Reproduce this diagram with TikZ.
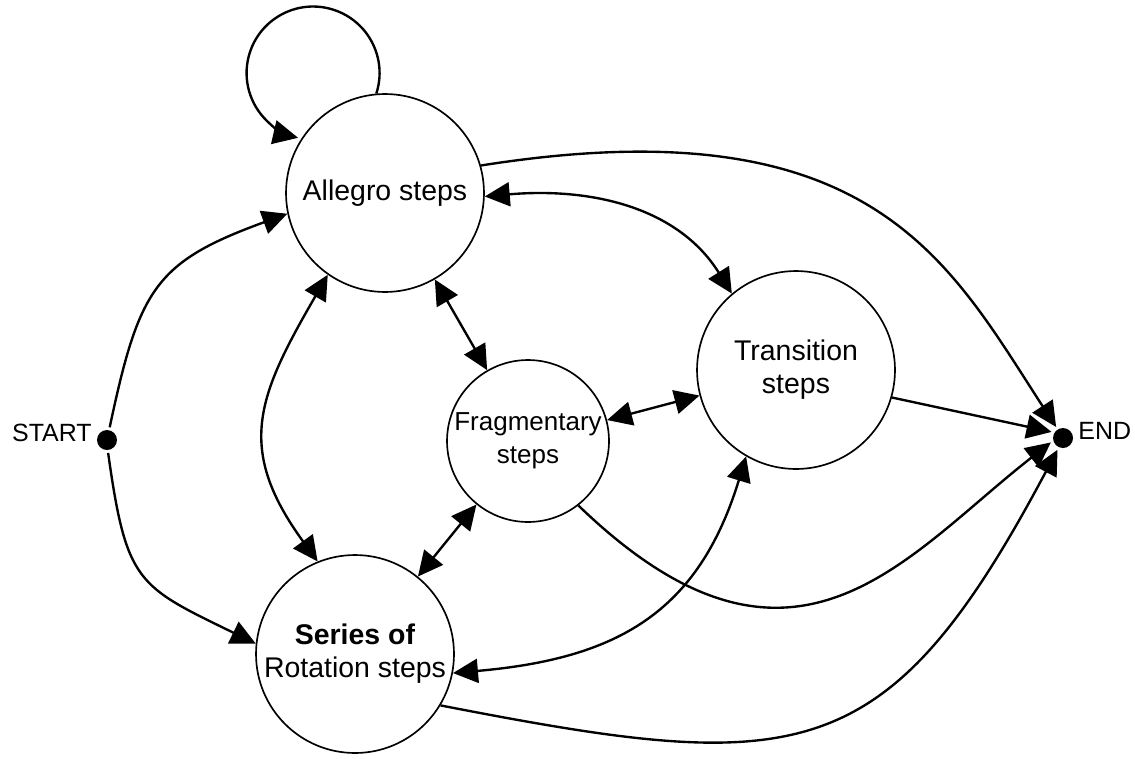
\documentclass[tikz,border=0pt]{standalone}
\usepackage{fontspec}
\setmainfont{Liberation Sans}
\usetikzlibrary{arrows.meta,math,positioning}

\tikzset{
  stepnode/.style={circle, draw, line width=0.95pt, inner sep=0pt, align=center,
    font=\fontsize{16.2}{18.7}\selectfont},
  terminal/.style={circle, fill, minimum size=0.4cm, inner sep=0pt, outer sep=0.06cm},
  tag/.style={inner sep=0pt, font=\fontsize{14.2}{16}\selectfont},
  link/.style={line width=1.35pt, -{Triangle[length=0.5cm,width=0.48cm]}},
  twoway/.style={line width=1.35pt,
    {Triangle[length=0.5cm,width=0.48cm]}-{Triangle[length=0.5cm,width=0.48cm]}},
}

\begin{document}
\begin{tikzpicture}[x=0.02cm,y=0.02cm]
  \tikzmath{
    real \bigsize, \smallsize;
    \bigsize=3.96;
    \smallsize=3.24;
  }
  \useasboundingbox (0,0) rectangle (1135,-758);

  \node[stepnode, minimum size=\bigsize cm] (allegro) at (385,-193) {Allegro steps};
  \node[stepnode, minimum size=\bigsize cm] (transition) at (796,-370) {Transition\\steps};
  \node[stepnode, minimum size=\smallsize cm, font=\fontsize{14.8}{18.7}\selectfont] (frag) at (528,-441) {Fragmentary\\steps};
  \node[stepnode, minimum size=\bigsize cm] (series) at (355,-654) {\textbf{Series of}\\Rotation steps};

  \node[terminal] (start) at (107,-440) {};
  \node[terminal] (finish) at (1063,-438) {};
  \node[tag, left=0.04cm of start, yshift=0.14cm] (starttext) {START};
  \node[tag, right=0.04cm of finish, yshift=0.14cm] (finishtext) {END};

  % from the start
  \draw[link] (start.78) to[out=78, in=200, looseness=1.3] (allegro.192);
  \draw[link] (start.-85) to[out=-82, in=154, looseness=1.4] (series.174);

  % loop on allegro
  \draw[link] (allegro.95) arc[start angle=-18, end angle=257, radius=1.33cm];

  % between the steps
  \draw[twoway] (allegro.-2) to[out=5, in=122] (transition.130);
  \draw[twoway] (allegro.235) to[out=240, in=126, looseness=1.25] (series.112);
  \draw[twoway] (allegro) -- (frag);
  \draw[twoway] (frag) -- (transition);
  \draw[twoway] (frag) -- (series);
  \draw[twoway] (transition.240) to[out=253, in=5, looseness=1.15] (series.-11);

  % to the end
  \draw[link] (allegro.16) to[out=9, in=123, out looseness=1.6, in looseness=0.8] (finish.122);
  \draw[link] (transition.-16) -- (finish.152);
  \draw[link] (frag.-52) to[out=-44, in=218, out looseness=1.6] (finish.200);
  \draw[link] (series.-31) to[out=-11, in=242, looseness=1.4] (finish.245);
\end{tikzpicture}
\end{document}
